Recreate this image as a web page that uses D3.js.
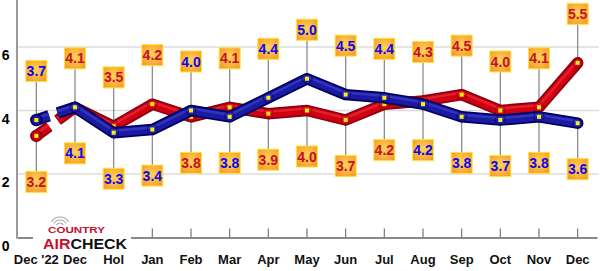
<!DOCTYPE html>
<html><head><meta charset="utf-8">
<script src="https://cdn.jsdelivr.net/npm/d3@7"></script>
<style>
html,body{margin:0;padding:0;background:#fff;}
svg{display:block;}
</style></head>
<body>
<svg id="chart" width="600" height="271"></svg>
<script>
const categories = ["Dec '22","Dec","Hol","Jan","Feb","Mar","Apr","May","Jun","Jul","Aug","Sep","Oct","Nov","Dec"];
const redValues  = [3.2,4.1,3.5,4.2,3.8,4.1,3.9,4.0,3.7,4.2,4.3,4.5,4.0,4.1,5.5];
const blueValues = [3.7,4.1,3.3,3.4,4.0,3.8,4.4,5.0,4.5,4.4,4.2,3.8,3.7,3.8,3.6];
const yTicks = [0,2,4,6];

const svg = d3.select("#chart");
const left = 17, right = 597, y0 = 237.5, yTop = 47;

const x = d3.scaleBand().domain(d3.range(categories.length)).range([left, right]);
const cx = i => x(i) + x.bandwidth()/2;
const y = d3.scaleLinear().domain([0,6]).range([y0, yTop]);

const defs = svg.append("defs");
const rg = defs.append("radialGradient").attr("id","boxGrad").attr("cx","50%").attr("cy","45%").attr("r","65%");
rg.append("stop").attr("offset","0%").attr("stop-color","#ffd35a");
rg.append("stop").attr("offset","60%").attr("stop-color","#fcb43c");
rg.append("stop").attr("offset","100%").attr("stop-color","#f59a25");

// gridlines
svg.append("g").selectAll("line").data(yTicks.filter(d=>d>0)).join("line")
  .attr("x1", left).attr("x2", 599).attr("y1", d=>y(d)).attr("y2", d=>y(d))
  .attr("stroke","#dcdcdc").attr("stroke-width",1.5);

// y axis
const yAxis = svg.append("g").attr("transform",`translate(${left},0)`)
  .call(d3.axisLeft(y).tickValues(yTicks).tickSize(0).tickPadding(7.5).tickFormat(d3.format("d")));
yAxis.select(".domain").remove();
yAxis.selectAll("text").attr("dy","0.92em").attr("font-family","'Liberation Sans Narrow','Liberation Sans',Arial,sans-serif")
  .attr("font-weight","bold").attr("font-size",14).attr("fill","#000");
svg.append("line").attr("x1",left).attr("x2",left).attr("y1",0).attr("y2",y0+1)
  .attr("stroke","#9a9a9a").attr("stroke-width",2);

// x axis
const xAxis = svg.append("g").attr("transform",`translate(0,${y0})`)
  .call(d3.axisBottom(x).tickSizeInner(-9).tickSizeOuter(0).tickPadding(17).tickFormat(i=>categories[i]));
xAxis.select(".domain").attr("stroke","#8a8a8a").attr("stroke-width",2);
xAxis.selectAll(".tick line").attr("stroke","#777").attr("stroke-width",1.2);
xAxis.selectAll("text").attr("font-family","'Liberation Sans Narrow','Liberation Sans',Arial,sans-serif")
  .attr("font-weight","bold").attr("font-size",13).attr("fill","#111");

// label placement
const redAbove = redValues.map((v,i)=> v >= blueValues[i]);
function labelY(v, above){ return above ? y(v) - 49 : y(v) + 46; }

// drop lines
const drops = svg.append("g");
function addDrops(vals, aboveFn){
  drops.selectAll(null).data(vals).join("line")
    .attr("x1",(d,i)=>cx(i)).attr("x2",(d,i)=>cx(i))
    .attr("y1",d=>y(d))
    .attr("y2",(d,i)=>labelY(d, aboveFn(i)))
    .attr("stroke","#8c8c8c").attr("stroke-width",1.3);
}
addDrops(redValues, i=>redAbove[i]);
addDrops(blueValues, i=>!redAbove[i]);

// series lines
function drawSeries(vals, dark, main, light){
  const g = svg.append("g");
  const pts = vals.map((v,i)=>[cx(i), y(v)]);
  const line = d3.line();
  const lerp = (a,b,t)=>[a[0]+(b[0]-a[0])*t, a[1]+(b[1]-a[1])*t];
  const piece1 = [pts[0], lerp(pts[0],pts[1],0.33)];
  const piece2 = [lerp(pts[0],pts[1],0.55), pts[1]];
  const rest = pts.slice(1);
  [[dark,11.5],[main,8],[light,2.5]].forEach(([c,w],k)=>{
    const off = k===2 ? -2 : 0;
    [piece1,piece2].forEach(p=>{
      g.append("path").attr("d",line(p.map(q=>[q[0],q[1]+off]))).attr("fill","none")
        .attr("stroke",c).attr("stroke-width",w).attr("stroke-linecap","butt").attr("opacity",k===2?0.4:1);
    });
    g.append("path").attr("d",line(rest.map(q=>[q[0],q[1]+off]))).attr("fill","none")
      .attr("stroke",c).attr("stroke-width",w).attr("stroke-linejoin","round").attr("stroke-linecap","round")
      .attr("opacity",k===2?0.4:1);
  });
  g.append("circle").attr("cx",pts[0][0]).attr("cy",pts[0][1]).attr("r",5.5).attr("fill",main).attr("stroke",dark).attr("stroke-width",1.5);
  g.selectAll(null).data(pts).join("circle").attr("cx",d=>d[0]).attr("cy",d=>d[1]).attr("r",5)
    .attr("fill","none").attr("stroke",dark).attr("stroke-width",1).attr("opacity",0.7);
  g.selectAll(null).data(pts).join("rect").attr("x",d=>d[0]-2).attr("y",d=>d[1]-2)
    .attr("width",4).attr("height",4).attr("fill","#ffee10");
}
drawSeries(redValues, "#8c0010", "#d00012", "#ff5050");
drawSeries(blueValues, "#000060", "#1a1aa2", "#5a5ae0");

// labels
const labels = svg.append("g");
function addLabels(vals, aboveFn, color){
  const g = labels.selectAll(null).data(vals).join("g")
    .attr("transform",(d,i)=>`translate(${cx(i)},${labelY(d, aboveFn(i))})`);
  g.append("rect").attr("x",-10.5).attr("y",-10.5).attr("width",21).attr("height",21)
    .attr("fill","url(#boxGrad)").attr("stroke","#ffe23a").attr("stroke-width",1);
  g.append("text").attr("text-anchor","middle").attr("dy","0.36em")
    .attr("font-family","'Liberation Sans Narrow','Liberation Sans',Arial,sans-serif")
    .attr("font-weight","bold").attr("font-size",14).attr("fill",color)
    .text(d=>d3.format(".1f")(d));
}
addLabels(redValues, i=>redAbove[i], "#c3102c");
addLabels(blueValues, i=>!redAbove[i], "#0a0aee");

// logo
const logo = svg.append("g");
logo.append("rect").attr("x",33).attr("y",214).attr("width",98).attr("height",37).attr("fill","#fff");
[4,7,10].forEach(r=>{
  logo.append("path").attr("d",d3.arc()({innerRadius:r-0.6,outerRadius:r+0.6,startAngle:-Math.PI/3,endAngle:Math.PI/3}))
    .attr("transform","translate(60,227)").attr("fill","#aaa");
});
logo.append("text").attr("x",76.5).attr("y",232.5).attr("text-anchor","middle")
  .attr("font-family","'Liberation Sans',Arial,sans-serif").attr("font-weight","bold").attr("font-size",8.5)
  .attr("textLength",57).attr("lengthAdjust","spacingAndGlyphs").attr("fill","#c8102e").text("COUNTRY");
const t = logo.append("text").attr("x",43).attr("y",248.8)
  .attr("font-family","'Liberation Sans',Arial,sans-serif").attr("font-weight","bold").attr("font-size",15)
  .attr("textLength",84).attr("lengthAdjust","spacingAndGlyphs");
t.append("tspan").attr("fill","#c8102e").text("AIR");
t.append("tspan").attr("fill","#111").text("CHECK");
</script>
</body></html>
